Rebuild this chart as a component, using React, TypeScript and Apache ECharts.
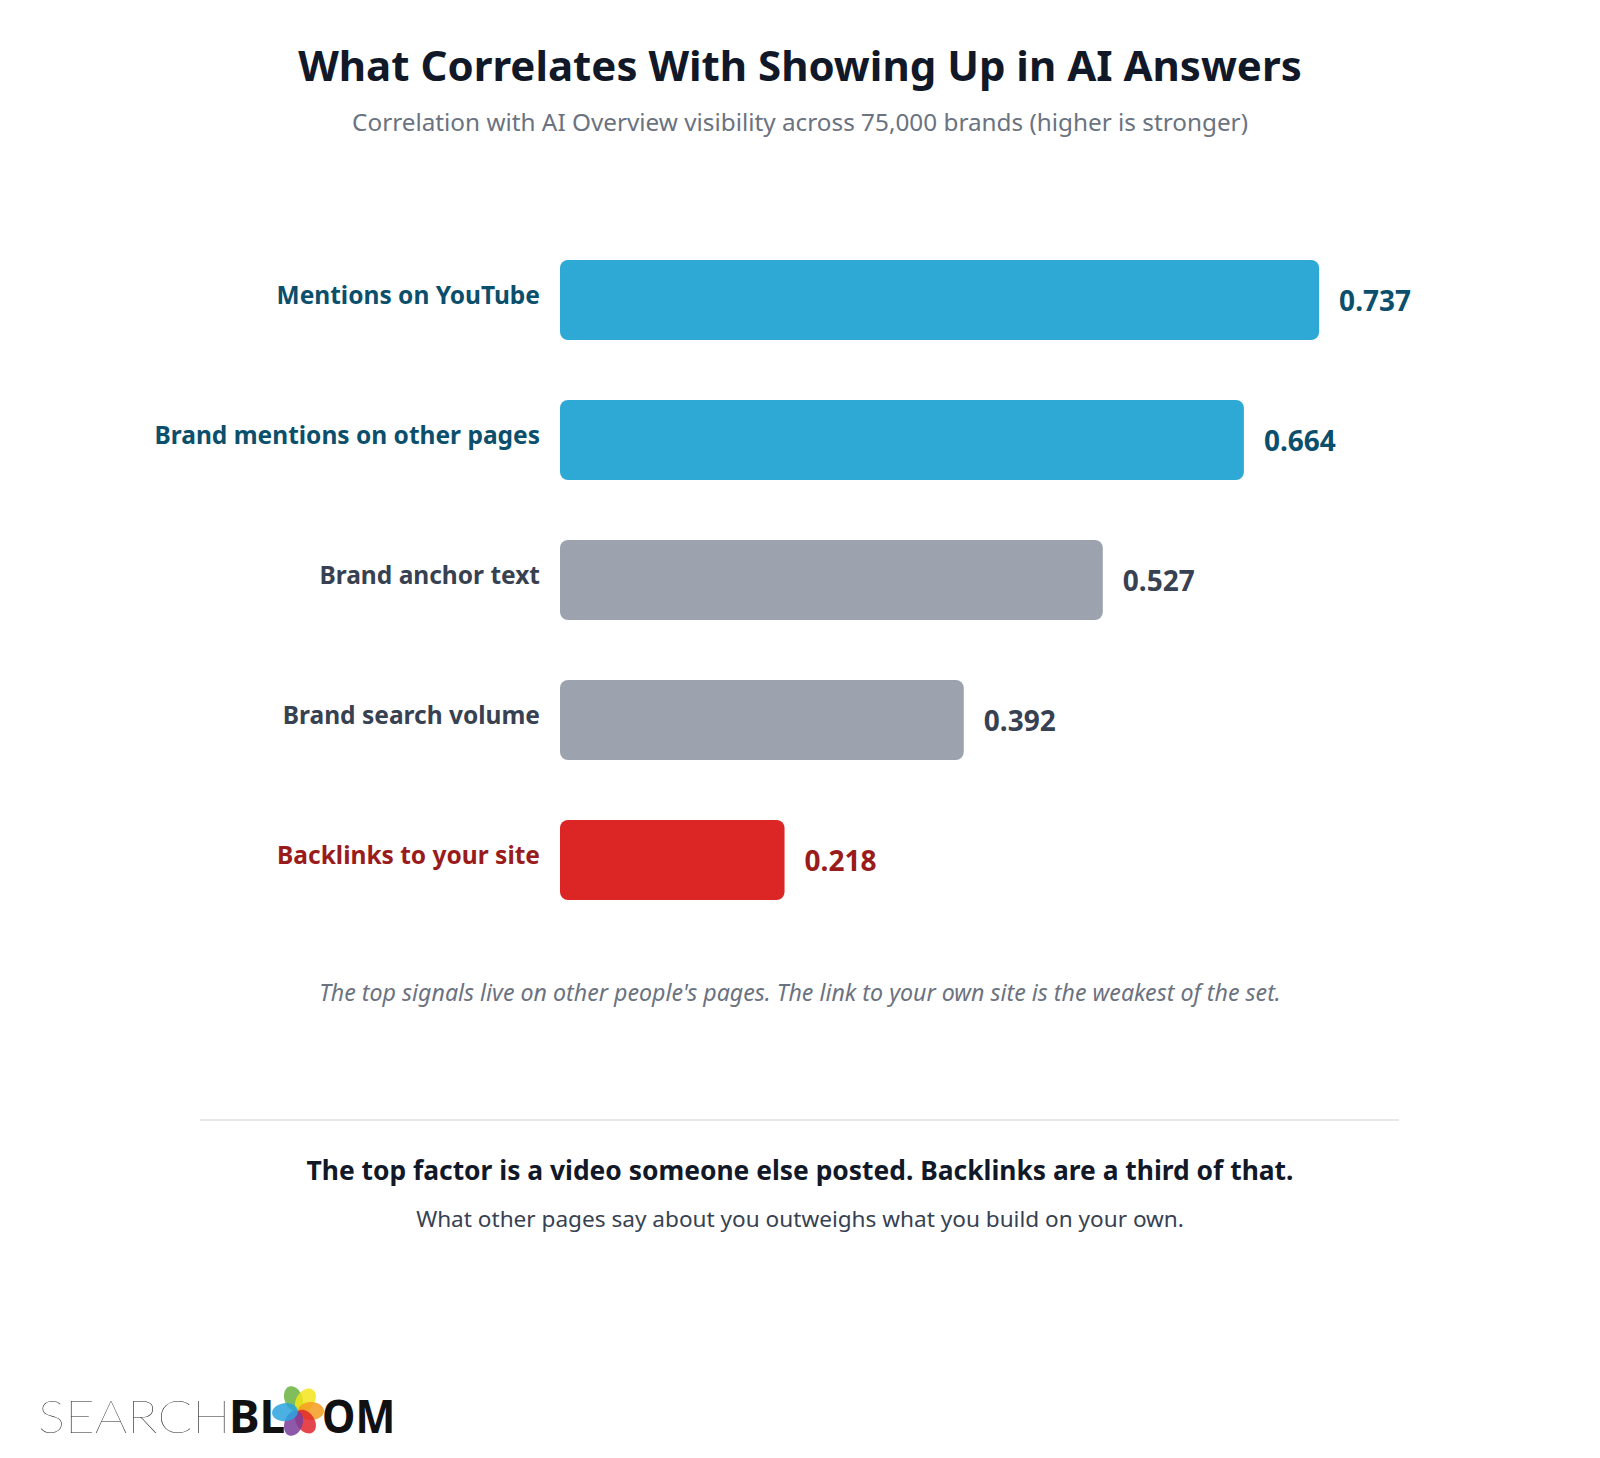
import React, { useEffect, useRef } from "react";
import * as echarts from "echarts";

const categories = [
  "Mentions on YouTube",
  "Brand mentions on other pages",
  "Brand anchor text",
  "Brand search volume",
  "Backlinks to your site",
];
const values = [0.737, 0.664, 0.527, 0.392, 0.218];
const barColors = ["#2EA9D6", "#2EA9D6", "#9CA3AF", "#9CA3AF", "#DC2626"];
const labelColors = ["#0B4F6C", "#0B4F6C", "#374151", "#374151", "#991B1B"];

const TITLE = "What Correlates With Showing Up in AI Answers";
const SUBTITLE = "Correlation with AI Overview visibility across 75,000 brands (higher is stronger)";
const NOTE = "The top signals live on other people's pages. The link to your own site is the weakest of the set.";
const TAKEAWAY = "The top factor is a video someone else posted. Backlinks are a third of that.";
const TAKEAWAY_SUB = "What other pages say about you outweighs what you build on your own.";

const FONT = "'Noto Sans', 'Open Sans', sans-serif";

export default function App() {
  const ref = useRef<HTMLDivElement>(null);
  useEffect(() => {
    if (!ref.current) return;
    const chart = echarts.init(ref.current, null, { renderer: "svg" });

    const petals = [
      { color: "#6AB23E", angle: -110 },
      { color: "#F2E51A", angle: -55 },
      { color: "#F39C1F", angle: 0 },
      { color: "#E0262B", angle: 55 },
      { color: "#7B3C9B", angle: 110 },
      { color: "#2AA3DD", angle: 175 },
    ];
    const cx = 298;
    const cy = 1411;
    const petalEls = petals.map((p) => {
      const a = (p.angle * Math.PI) / 180;
      const d = 13;
      return {
        type: "ellipse",
        x: cx + Math.cos(a) * d,
        y: cy + Math.sin(a) * d,
        rotation: -(a + Math.PI / 2),
        shape: { cx: 0, cy: 0, rx: 9, ry: 13 },
        style: { fill: p.color, opacity: 0.85 },
      };
    });

    const rich: Record<string, any> = {};
    labelColors.forEach((c, i) => {
      rich["c" + i] = {
        color: c,
        fontSize: 24.5,
        fontWeight: "bold",
        fontFamily: FONT,
        padding: [0, 0, 11, 0],
      };
    });

    chart.setOption({
      animation: false,
      backgroundColor: "#ffffff",
      grid: { left: 560, top: 230, width: 1030, height: 700, containLabel: false },
      xAxis: { type: "value", min: 0, max: 1, show: false },
      yAxis: {
        type: "category",
        inverse: true,
        data: categories,
        axisLine: { show: false },
        axisTick: { show: false },
        splitLine: { show: false },
        axisLabel: {
          margin: 20,
          fontSize: 24.5,
          fontWeight: "bold",
          fontFamily: FONT,
          formatter: (value: string, index: number) => `{c${index}|${value}}`,
          rich,
        },
      },
      series: [
        {
          type: "bar",
          barWidth: 80,
          data: values.map((v, i) => ({
            value: v,
            itemStyle: { color: barColors[i], borderRadius: 8 },
            label: { color: labelColors[i] },
          })),
          label: {
            show: true,
            position: "right",
            distance: 20,
            fontSize: 28,
            fontWeight: "bold",
            fontFamily: FONT,
            formatter: (p: any) => p.value.toFixed(3),
          },
        },
      ],
      graphic: [
        {
          type: "text",
          x: 800,
          y: 64,
          style: {
            text: TITLE,
            fontSize: 42,
            fontWeight: "bold",
            fontFamily: FONT,
            fill: "#111827",
            align: "center",
            verticalAlign: "middle",
          },
        },
        {
          type: "text",
          x: 800,
          y: 121,
          style: {
            text: SUBTITLE,
            fontSize: 24.3,
            fontFamily: FONT,
            fill: "#6B7280",
            align: "center",
            verticalAlign: "middle",
          },
        },
        {
          type: "text",
          x: 800,
          y: 992,
          style: {
            text: NOTE,
            fontSize: 23.2,
            fontStyle: "italic",
            fontFamily: FONT,
            fill: "#6B7280",
            align: "center",
            verticalAlign: "middle",
          },
        },
        {
          type: "line",
          shape: { x1: 200, y1: 1120, x2: 1399, y2: 1120 },
          style: { stroke: "#E5E7EB", lineWidth: 2 },
        },
        {
          type: "text",
          x: 800,
          y: 1170,
          style: {
            text: TAKEAWAY,
            fontSize: 26.4,
            fontWeight: "bold",
            fontFamily: FONT,
            fill: "#111827",
            align: "center",
            verticalAlign: "middle",
          },
        },
        {
          type: "text",
          x: 800,
          y: 1218,
          style: {
            text: TAKEAWAY_SUB,
            fontSize: 22.6,
            fontFamily: FONT,
            fill: "#374151",
            align: "center",
            verticalAlign: "middle",
          },
        },
        {
          type: "text",
          x: 38,
          y: 1415,
          scaleX: 1.11,
          style: {
            text: "SEARCH",
            fontSize: 46,
            fontWeight: 200,
            fontFamily: "Lato, 'Noto Sans', sans-serif",
            fill: "#222222",
            align: "left",
            verticalAlign: "middle",
          },
        },
        {
          type: "text",
          x: 229,
          y: 1415,
          style: {
            text: "BL",
            fontSize: 46,
            fontWeight: "bold",
            fontFamily: "'Noto Sans', sans-serif",
            fill: "#111111",
            align: "left",
            verticalAlign: "middle",
          },
        },
        ...petalEls,
        {
          type: "text",
          x: 322,
          y: 1415,
          scaleX: 0.92,
          style: {
            text: "OM",
            fontSize: 46,
            fontWeight: "bold",
            fontFamily: "'Noto Sans', sans-serif",
            fill: "#111111",
            align: "left",
            verticalAlign: "middle",
          },
        },
      ],
    });
    return () => chart.dispose();
  }, []);
  return (
    <div
      ref={ref}
      style={{ position: "absolute", left: 0, top: 0, width: 1600, height: 1458 }}
    />
  );
}
